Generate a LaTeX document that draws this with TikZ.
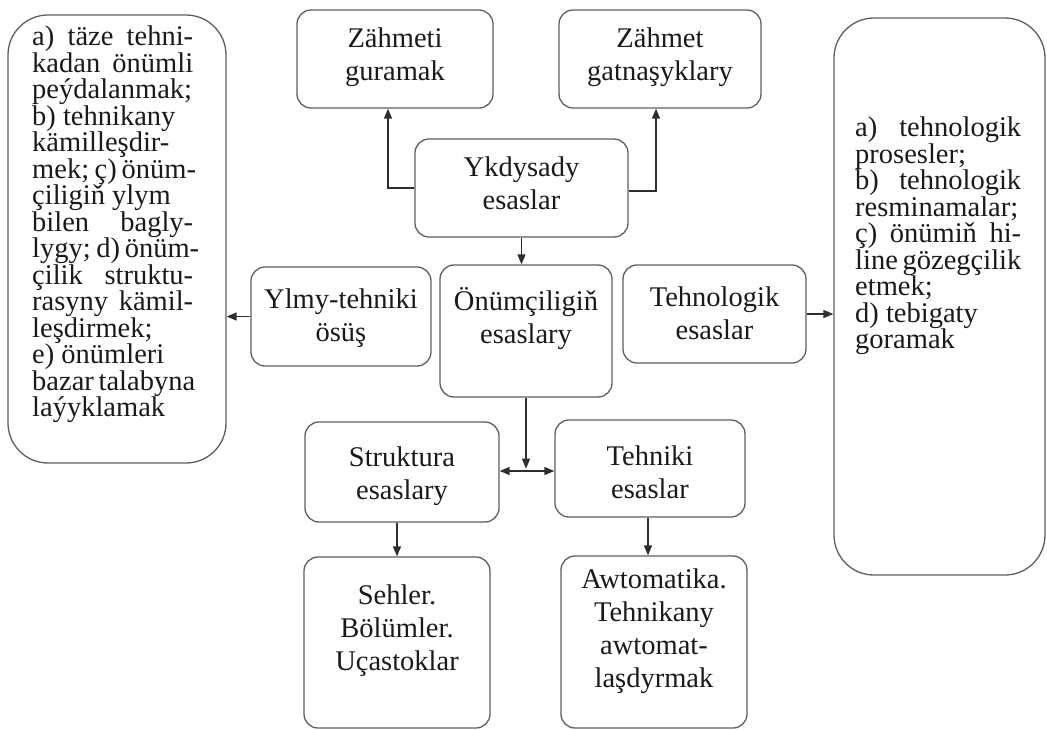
\documentclass[tikz,border=0pt]{standalone}
\usepackage{fontspec}
\setmainfont{Liberation Serif}
\usetikzlibrary{arrows.meta,calc}
\definecolor{boxgray}{HTML}{5E5E5E}
\definecolor{arrgray}{HTML}{2E2E2E}
\definecolor{txtblack}{HTML}{1A1A1A}
\newlength{\lw}
\setlength{\lw}{161pt}
\newlength{\rw}
\setlength{\rw}{166pt}
\newcommand{\J}[1]{\makebox[\lw][s]{#1}}
\newcommand{\K}[1]{\makebox[\rw][s]{#1}}
\begin{document}
\begin{tikzpicture}[x=1pt,y=-1pt,
  box/.style={draw=boxgray, line width=1.3pt, rounded corners=14pt, inner sep=0pt},
  bigbox/.style={box, rounded corners=40pt},
  arr/.style={draw=arrgray, line width=1.4pt, -{Triangle[length=10pt,width=8pt]}},
  dbl/.style={draw=arrgray, line width=1.4pt, {Triangle[length=10pt,width=8pt]}-{Triangle[length=10pt,width=8pt]}},
  txt/.style={text=txtblack, font=\fontsize{28.5}{33}\selectfont, align=center, inner sep=0pt},
  side/.style={text=txtblack, font=\fontsize{28.5}{26.5}\selectfont, align=left, inner sep=0pt, anchor=north west}]
\useasboundingbox (0,0) rectangle (1047,729);
% boxes
\node[bigbox, minimum width=218pt, minimum height=448pt] (L) at (117,239) {};
\node[bigbox, minimum width=211pt, minimum height=557pt] (R) at (939.5,296.5) {};
\node[box, minimum width=196pt, minimum height=98pt] (Z1) at (395,59) {};
\node[box, minimum width=202pt, minimum height=98pt] (Z2) at (660,59) {};
\node[box, minimum width=213pt, minimum height=98pt] (Y) at (521.5,188) {};
\node[box, minimum width=172pt, minimum height=132pt] (O) at (526,331) {};
\node[box, minimum width=180pt, minimum height=99pt] (YT) at (341,316.5) {};
\node[box, minimum width=183pt, minimum height=98pt] (T) at (714.5,314) {};
\node[box, minimum width=194pt, minimum height=100pt] (S) at (402,472) {};
\node[box, minimum width=190pt, minimum height=97pt] (TE) at (650,468.5) {};
\node[box, minimum width=186pt, minimum height=171pt] (SE) at (397,642.5) {};
\node[box, minimum width=186pt, minimum height=172pt] (A) at (654,642) {};
% texts
\node[txt] (Z1t) at (395,57) {Zähmeti\\guramak};
\node[txt] (Z2t) at (660,57) {Zähmet\\gatnaşyklary};
\node[txt] (Yt) at (521.5,183) {Ykdysady\\esaslar};
\node[txt] (Ot) at (526,319) {Önümçiligiň\\esaslary};
\node[txt] (YTt) at (341,318) {Ylmy-tehniki\\ösüş};
\node[txt] (Tt) at (714.5,313) {Tehnologik\\esaslar};
\node[txt] (St) at (402,476) {Struktura\\esaslary};
\node[txt] (TEt) at (650,472) {Tehniki\\esaslar};
\node[txt] (SEt) at (397,631) {Sehler.\\Bölümler.\\Uçastoklar};
\node[txt] (At) at (654,631) {Awtomatika.\\Tehnikany\\awtomat-\\laşdyrmak};
\node[side] (Lt) at (32,26) {\J{a) täze tehni-}\\\J{kadan önümli}\\peýdalanmak;\\b) tehnikany\\kämilleşdir-\\\J{mek; ç) önüm-}\\çiligiň ylym\\\J{bilen bagly-}\\\J{lygy; d) önüm-}\\\J{çilik struktu-}\\\J{rasyny kämil-}\\leşdirmek;\\e) önümleri\\\J{bazar talabyna}\\laýyklamak};
\node[side] (Rt) at (855,117) {\K{a) tehnologik}\\prosesler;\\\K{b) tehnologik}\\resminamalar;\\\K{ç) önümiň hi-}\\\K{line gözegçilik}\\etmek;\\d) tebigaty\\goramak};
% connectors
\draw[arr] (Y.west) -| ([xshift=-7pt]Z1.south);
\draw[arr] ([yshift=-3pt]Y.east) -| ([xshift=-4pt]Z2.south);
\draw[arr] (Y.south) -- (Y.south |- O.north);
\coordinate (mid) at ($(O.south)+(0,71)$);
\draw[arr] (O.south) -- (mid);
\draw[dbl] ([yshift=1pt]S.east) -- ([yshift=1pt]S.east -| TE.west);
\draw[arr] (YT.west) -- (YT.west -| L.east);
\draw[arr] (T.east) -- (T.east -| R.west);
\draw[arr] (SE.north |- S.south) -- (SE.north);
\draw[arr] ([xshift=-2pt]TE.south) -- ([xshift=-2pt]TE.south |- A.north);
\end{tikzpicture}
\end{document}
